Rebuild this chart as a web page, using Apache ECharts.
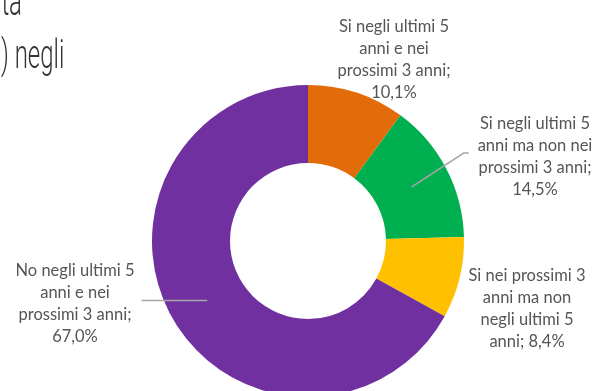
<!DOCTYPE html>
<html>
<head>
<meta charset="utf-8">
<script src="https://cdn.jsdelivr.net/npm/echarts@6/dist/echarts.min.js"></script>
<style>
  html, body { margin: 0; padding: 0; background: #ffffff; }
  #chart { width: 599px; height: 391px; }
</style>
</head>
<body>
<div id="chart"></div>
<script>
// Categories (with their wrapped lines) and shares in percent
const categories = [
  'Si negli ultimi 5\nanni e nei\nprossimi 3 anni',
  'Si negli ultimi 5\nanni ma non nei\nprossimi 3 anni',
  'Si nei prossimi 3\nanni ma non\nnegli ultimi 5\nanni',
  'No negli ultimi 5\nanni e nei\nprossimi 3 anni'
];
const values = [10.1, 14.5, 8.4, 67.0];
const titleLines = ['ita', ') negli'];

const palette = ['#E36C0A', '#00B050', '#FFC000', '#7030A0'];

// Label centres and leader-line visibility per slice
const labelPos = [[394, 60], [535, 157], [527, 309], [75, 304]];
const showLine = [false, true, false, true];

const CX = 308, CY = 241;

function pct(v) {
  return v.toFixed(1).replace('.', ',') + '%';
}
function labelText(name, v) {
  const lines = name.split('\n');
  const last = lines[lines.length - 1];
  return name + ';' + (last.length < 6 ? ' ' : '\n') + pct(v);
}

const ringData = categories.map((c, i) => ({
  name: c, value: values[i], itemStyle: { color: palette[i] }
}));
const labelData = categories.map((c, i) => ({
  name: c, value: values[i],
  labelLine: { show: showLine[i] }
}));

const chart = echarts.init(document.getElementById('chart'), null, { renderer: 'canvas' });
chart.setOption({
  animation: false,
  backgroundColor: '#ffffff',
  graphic: [
    {
      type: 'text', x: -4, y: 25, scaleX: 0.6,
      style: { text: titleLines[0], font: '300 40px Roboto', fill: '#333333', textVerticalAlign: 'bottom' }
    },
    {
      type: 'text', x: 1, y: 78, scaleX: 0.6,
      style: { text: titleLines[1], font: '300 40px Roboto', fill: '#333333', textVerticalAlign: 'bottom' }
    }
  ],
  series: [
    {
      // the donut itself
      type: 'pie',
      z: 1,
      center: [CX, CY],
      radius: [78, 156],
      startAngle: 90,
      clockwise: true,
      silent: true,
      label: { show: false },
      labelLine: { show: false },
      itemStyle: { borderWidth: 0 },
      data: ringData
    },
    {
      // transparent pie reaching mid-ring: carries labels and leader lines
      type: 'pie',
      z: 5,
      center: [CX, CY],
      radius: [0, 117],
      startAngle: 90,
      clockwise: true,
      silent: true,
      avoidLabelOverlap: false,
      itemStyle: { color: 'rgba(0,0,0,0)' },
      label: {
        show: true,
        position: 'outside',
        formatter: p => labelText(p.name, p.value),
        fontFamily: 'Lato',
        fontSize: 16.5,
        lineHeight: 22,
        color: '#555555',
        align: 'center'
      },
      labelLine: {
        show: true,
        length: 10,
        length2: 10,
        lineStyle: { color: '#a6a6a6', width: 1.5 }
      },
      labelLayout: function (params) {
        const i = params.dataIndex;
        const [x, y] = labelPos[i];
        const w = params.labelRect.width;
        const out = { x: x, y: y, align: 'center', verticalAlign: 'middle', hideOverlap: false };
        if (showLine[i] && params.labelLinePoints) {
          const p0 = params.labelLinePoints[0];
          if (x > CX) {
            const left = x - w / 2;
            out.labelLinePoints = [p0, [left - 14, y - 4], [left - 9, y - 4]];
          } else {
            const right = x + w / 2;
            out.labelLinePoints = [p0, [right + 7, p0[1]], [right + 7, p0[1]]];
          }
        }
        return out;
      },
      data: labelData
    }
  ]
});
</script>
</body>
</html>
